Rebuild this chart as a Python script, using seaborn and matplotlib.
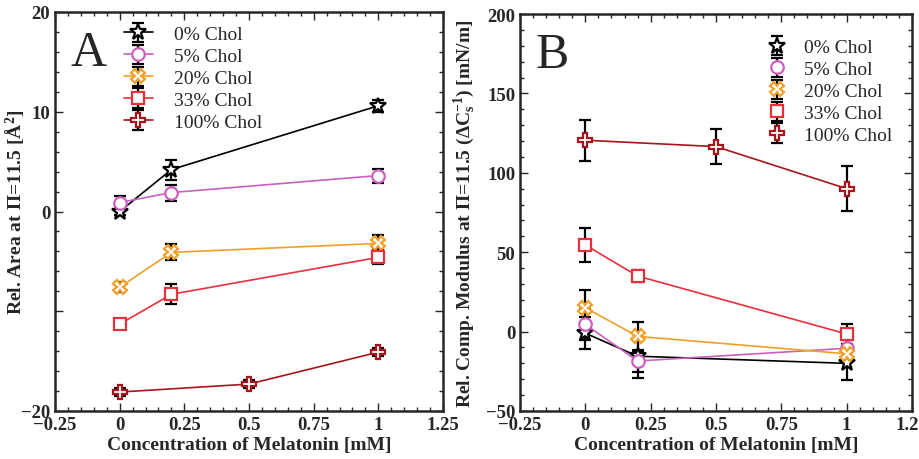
import numpy as np
import pandas as pd
import seaborn as sns
import matplotlib
matplotlib.use("Agg")
import matplotlib.pyplot as plt
from matplotlib.lines import Line2D
from matplotlib.container import ErrorbarContainer
from matplotlib.ticker import MultipleLocator

# ---------------- data ----------------
labels = ["0% Chol", "5% Chol", "20% Chol", "33% Chol", "100% Chol"]

# Panel A: relative area
a_x = {
    "0% Chol": [0, 0.2, 1],
    "5% Chol": [0, 0.2, 1],
    "20% Chol": [0, 0.2, 1],
    "33% Chol": [0, 0.2, 1],
    "100% Chol": [0, 0.5, 1],
}
a_y = {
    "0% Chol": [0.0, 4.2, 10.6],
    "5% Chol": [0.9, 1.9, 3.6],
    "20% Chol": [-7.6, -4.1, -3.2],
    "33% Chol": [-11.3, -8.3, -4.6],
    "100% Chol": [-18.1, -17.3, -14.1],
}
a_err = {
    "0% Chol": [0.4, 1.0, 0.6],
    "5% Chol": [0.7, 0.8, 0.7],
    "20% Chol": [0.5, 0.8, 0.8],
    "33% Chol": [0.4, 1.0, 0.7],
    "100% Chol": [0.4, 0.4, 0.4],
}

# Panel B: relative compressional modulus
b_x = a_x
b_y = {
    "0% Chol": [-1.0, -15.5, -20.0],
    "5% Chol": [4.5, -18.5, -10.5],
    "20% Chol": [15.0, -3.0, -14.0],
    "33% Chol": [54.5, 35.0, -1.5],
    "100% Chol": [120.5, 116.5, 90.0],
}
b_err = {
    "0% Chol": [10.0, 14.0, 10.5],
    "5% Chol": [10.0, 7.0, 5.0],
    "20% Chol": [11.0, 9.0, 4.0],
    "33% Chol": [10.5, 4.0, 6.0],
    "100% Chol": [13.0, 11.0, 14.0],
}

colors = {
    "0% Chol": "#000000",
    "5% Chol": "#cc5fbf",
    "20% Chol": "#f0a02a",
    "33% Chol": "#e8303c",
    "100% Chol": "#a8141c",
}
markers = {
    "0% Chol": "*",
    "5% Chol": "o",
    "20% Chol": "X",
    "33% Chol": "s",
    "100% Chol": "P",
}
msizes = {"0% Chol": 12, "5% Chol": 9, "20% Chol": 10, "33% Chol": 9, "100% Chol": 10}

# ---------------- style ----------------
sns.set_style("ticks")
plt.rcParams["font.family"] = ["Liberation Serif", "DejaVu Serif"]
plt.rcParams["mathtext.fontset"] = "custom"
plt.rcParams["mathtext.rm"] = "Liberation Serif"
plt.rcParams["mathtext.bf"] = "Liberation Serif:bold"
plt.rcParams["mathtext.it"] = "Liberation Serif:italic"

fig = plt.figure(figsize=(9.19, 4.6), dpi=100)
axA = fig.add_axes([55 / 919, 48 / 460, 388 / 919, 399 / 460])
axB = fig.add_axes([520 / 919, 48 / 460, 392 / 919, 397 / 460])


def draw(ax, xs, ys, errs, with_line_legend):
    handles = []
    for lab in labels:
        df = pd.DataFrame({"x": xs[lab], "y": ys[lab]})
        cont = ax.errorbar(df["x"], df["y"], yerr=errs[lab], fmt="none",
                           ecolor="black", elinewidth=1.6, capsize=4.5,
                           capthick=1.6, zorder=2)
        sns.lineplot(data=df, x="x", y="y", ax=ax, color=colors[lab],
                     linewidth=1.2, marker=markers[lab], markersize=msizes[lab],
                     markerfacecolor="white", markeredgecolor=colors[lab],
                     markeredgewidth=1.6, legend=False, zorder=3,
                     sort=False, estimator=None)
        if with_line_legend:
            proxy = Line2D([], [], color=colors[lab], linewidth=1.2,
                           marker=markers[lab], markersize=msizes[lab],
                           markerfacecolor="white", markeredgecolor=colors[lab],
                           markeredgewidth=1.6)
        else:
            proxy = Line2D([], [], linestyle="none",
                           marker=markers[lab], markersize=msizes[lab],
                           markerfacecolor="white", markeredgecolor=colors[lab],
                           markeredgewidth=1.6)
        h = ErrorbarContainer((proxy, cont[1], cont[2]), has_xerr=False,
                              has_yerr=True, label=lab)
        handles.append(h)
    return handles


hA = draw(axA, a_x, a_y, a_err, True)
hB = draw(axB, b_x, b_y, b_err, False)

for ax in (axA, axB):
    ax.set_xlim(-0.25, 1.25)
    ax.set_xticks([-0.25, 0, 0.25, 0.5, 0.75, 1, 1.25])
    ax.set_xticklabels(["\u22120.25", "0", "0.25", "0.5", "0.75", "1", "1.25"])
    ax.xaxis.set_minor_locator(MultipleLocator(0.05))
    ax.tick_params(which="both", direction="in", top=True, right=True,
                   width=1.0)
    ax.tick_params(which="major", length=6, labelsize=13.5)
    ax.tick_params(which="minor", length=3)
    for s in ax.spines.values():
        s.set_linewidth(1.8)
    ax.set_xlabel("Concentration of Melatonin [mM]", fontsize=14,
                  fontweight="bold", labelpad=2)

axA.set_ylim(-20, 20)
axA.set_yticks([-20, -10, 0, 10, 20])
axA.set_yticklabels(["\u221220", "", "0", "10", "20"])
axA.yaxis.set_minor_locator(MultipleLocator(2))
axA.set_ylabel("Rel. Area at \u03a0=11.5 [\u00c5$^{\\mathbf{2}}$]",
               fontsize=14, fontweight="bold")
axA.yaxis.set_label_coords(-0.072, 0.5)

axB.set_ylim(-50, 200)
axB.set_yticks([-50, 0, 50, 100, 150, 200])
axB.set_yticklabels(["\u221250", "0", "50", "100", "150", "200"])
axB.yaxis.set_minor_locator(MultipleLocator(10))
axB.set_ylabel("Rel. Comp. Modulus at \u03a0=11.5 (\u0394C$_{\\mathbf{s}}^{\\mathbf{-1}}$) [mN/m]",
               fontsize=14, fontweight="bold")
axB.yaxis.set_label_coords(-0.108, 0.5)

for ax in (axA, axB):
    for lbl in ax.get_xticklabels() + ax.get_yticklabels():
        lbl.set_fontweight("bold")

axA.text(0.04, 0.955, "A", transform=axA.transAxes, fontsize=36,
         va="top", ha="left")
axB.text(0.04, 0.955, "B", transform=axB.transAxes, fontsize=36,
         va="top", ha="left")

axA.legend(handles=hA, loc="upper left", bbox_to_anchor=(0.147, 0.995),
           frameon=False, fontsize=14, handlelength=1.5, handletextpad=1.1,
           labelspacing=0.22, borderaxespad=0.2)
axB.legend(handles=hB, loc="upper left", bbox_to_anchor=(0.6, 0.967),
           frameon=False, fontsize=14, handlelength=1.0, handletextpad=0.9,
           labelspacing=0.22, borderaxespad=0.2)

fig.savefig("out.png", dpi=100)
